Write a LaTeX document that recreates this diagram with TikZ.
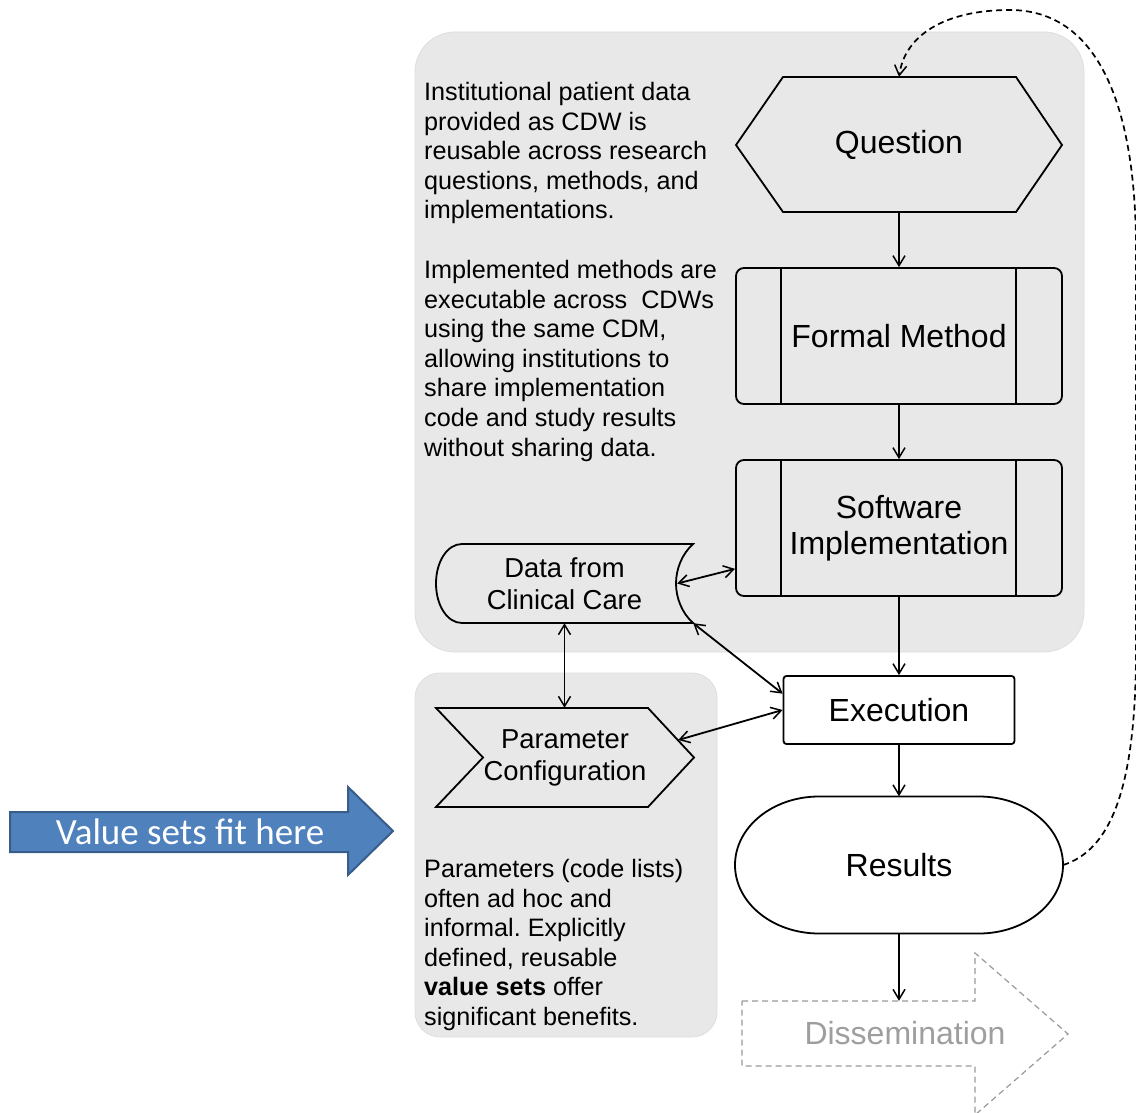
\documentclass[tikz,border=0pt]{standalone}
\usepackage{fontspec}
\setmainfont{Liberation Sans}
\newfontfamily\calibrifont{Carlito}
\usetikzlibrary{arrows.meta}
\frenchspacing

\tikzset{
  panel/.style={fill=black!9, draw=black!13, line width=0.8pt},
  outline/.style={draw, line width=1.8pt},
  process/.style={outline, rounded corners=8pt, minimum width=326pt, minimum height=136pt,
    align=center, font=\fontsize{32}{36}\selectfont,
    path picture={\draw[line width=1.8pt] ([xshift=45pt]path picture bounding box.north west) -- ([xshift=45pt]path picture bounding box.south west)
      ([xshift=-46pt]path picture bounding box.north east) -- ([xshift=-46pt]path picture bounding box.south east);}},
  bigtext/.style={font=\fontsize{32}{36}\selectfont, align=center, inner sep=0pt},
  midtext/.style={font=\fontsize{27.4}{32}\selectfont, align=center, inner sep=0pt},
  note/.style={font=\fontsize{25.2}{29.6}\selectfont, align=left, anchor=north west, inner sep=0pt},
  tip/.tip={Straight Barb[length=10pt, width=12pt, line width=1.5pt]},
  link/.style={line width=1.8pt, -tip},
  twoway/.style={line width=1.8pt, tip-tip},
  feedback/.style={line width=1.7pt, dash pattern=on 6pt off 4pt, -tip},
  faded/.style={draw=black!40, line width=1.2pt, dash pattern=on 6pt off 4pt}
}

\begin{document}
\begin{tikzpicture}[x=1pt,y=1pt,yscale=-1,xscale=1]
\useasboundingbox (0,0) rectangle (1136,1113);

%Shape: grey panels
\draw [panel, rounded corners=40pt] (415,32) rectangle (1084,652);
\draw [panel, rounded corners=25pt] (415,673) rectangle (717,1037);

% Text Node
\node [note] (txtcdw) at (424,82) {Institutional patient data\\provided as CDW is\\reusable across research\\questions, methods, and\\implementations.};
% Text Node
\node [note] (txtcdm) at (424,260) {Implemented methods are\\executable across~~CDWs\\using the same CDM,\\allowing institutions to\\share implementation\\code and study results\\without sharing data.};
% Text Node
\node [note] (txtparam) at (424,859) {Parameters (code lists)\\often ad hoc and\\informal. Explicitly\\defined, reusable\\\textbf{value sets} offer\\significant benefits.};

%Shape: Hexagon
\draw [outline] (736,145) -- (783,77) -- (1016,77) -- (1062,145) -- (1016,212) -- (783,212) -- cycle;
\node [bigtext, minimum width=326pt, minimum height=135pt] (quest) at (899,144.5) {\raisebox{-3pt}{Question}};

% process boxes
\node [process] (method) at (899,336) {Formal Method};
\node [process] (soft) at (899,528) {Software\\Implementation};

%Shape: stored data
\draw [outline] (693,544) -- (462,544) .. controls (447,544) and (436,562) .. (436,583.5) .. controls (436,605) and (447,623) .. (462,623) -- (693,623) .. controls (682,613) and (676,598) .. (676,583.5) .. controls (676,569) and (682,554) .. (693,544) -- cycle;
\node [midtext, minimum width=257pt, minimum height=79pt] (data) at (564.5,583.5) {Data from\\Clinical Care};

%Shape: chevron
\draw [outline] (436,708) -- (648,708) -- (694,757.5) -- (648,807) -- (436,807) -- (483,757.5) -- cycle;
\node [midtext, minimum width=258pt, minimum height=99pt] (param) at (565,757.5) {Parameter\\Configuration};

% Execution
\node [bigtext, draw, line width=1.8pt, rounded corners=3pt, minimum width=231pt, minimum height=68pt] (exec) at (899,710) {Execution};

%Shape: terminal
\draw [outline] (819,796.5) -- (979,796.5) .. controls (1025.4,796.5) and (1063,827.2) .. (1063,865) .. controls (1063,902.8) and (1025.4,933.5) .. (979,933.5) -- (819,933.5) .. controls (772.6,933.5) and (735,902.8) .. (735,865) .. controls (735,827.2) and (772.6,796.5) .. (819,796.5) -- cycle;
\node [bigtext, minimum width=328pt, minimum height=137pt] (result) at (899,865) {Results};

%Shape: dashed arrow
\draw [faded] (742,1001) -- (975,1001) -- (975,953) -- (1068,1034) -- (975,1115) -- (975,1066) -- (742,1066) -- cycle;
\node [bigtext, text=black!38, minimum width=326pt, minimum height=65pt] (dissem) at (905,1033.5) {Dissemination};

%Shape: blue arrow
\draw [fill={rgb, 255:red, 79; green, 129; blue, 189}, draw={rgb, 255:red, 56; green, 93; blue, 138}, line width=2pt] (10,812) -- (348,812) -- (348,787) -- (393,831) -- (348,875) -- (348,852) -- (10,852) -- cycle;
\node [font=\calibrifont\fontsize{37}{40}\selectfont, text=white, inner sep=0pt] (valuesets) at (190,832) {Value sets fit here};

% connectors
\draw [link] (quest.south) -- (method.north);
\draw [link] (method.south) -- (soft.north);
\draw [link] (soft.south) -- (soft.south |- exec.north);
\draw [link] (exec.south) -- (exec.south |- result.north);
\draw [link] (result.south) -- (result.south |- dissem.north);
\draw [twoway] ([xshift=-16pt]data.east) -- (soft.194);
\draw [twoway] (data.south east) -- (exec.172);
\draw [twoway] (data.south) -- (data.south |- param.north);
\draw [twoway] ([xshift=-16pt,yshift=-17.5pt]param.east) -- (exec.west);
\draw [feedback] (result.east) .. controls (1110,850) and (1136,790) .. (1136,650) -- (1136,250) .. controls (1136,90) and (1090,10) .. (1010,10) .. controls (945,10) and (905,35) .. (quest.north);

\end{tikzpicture}
\end{document}
